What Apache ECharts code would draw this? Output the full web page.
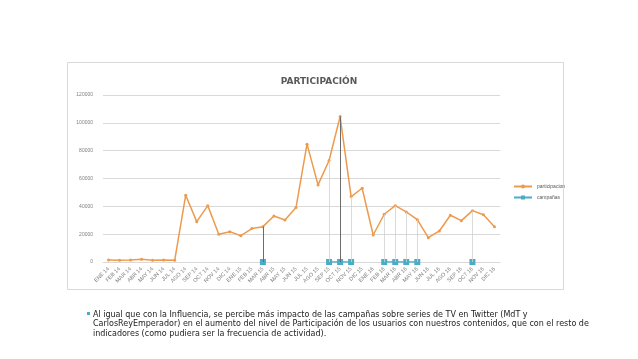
<!DOCTYPE html>
<html><head><meta charset="utf-8">
<script src="https://cdn.jsdelivr.net/npm/echarts@6/dist/echarts.min.js"></script>
<style>html,body{margin:0;padding:0;background:#fff}#c{width:638px;height:359px}</style>
</head><body><div id="c"></div>
<script>
const months = ["ENE 14","FEB 14","MAR 14","ABR 14","MAY 14","JUN 14","JUL 14","AGO 14","SEP 14","OCT 14","NOV 14","DIC 14",
"ENE 15","FEB 15","MAR 15","ABR 15","MAY 15","JUN 15","JUL 15","AGO 15","SEP 15","OCT 15","NOV 15","DIC 15",
"ENE 16","FEB 16","MAR 16","ABR 16","MAY 16","JUN 16","JUL 16","AGO 16","SEP 16","OCT 16","NOV 16","DIC 16"];
const participacion = [1400,1200,1500,1900,1200,1500,1200,48000,29000,40500,19900,21800,
18900,24000,25400,33100,30200,39100,84700,55400,72900,104500,47000,53000,
19400,34300,40500,36000,30400,17500,22300,33600,29700,36900,34000,25400];
const campanas = [null,null,null,null,null,null,null,null,null,null,null,null,
null,null,0,null,null,null,null,null,0,0,0,null,
null,0,0,0,0,null,null,null,null,0,null,null];
const darkDrops = [14,21];

const chart = echarts.init(document.getElementById('c'));
const drops = [];
campanas.forEach((v,i)=>{ if(v!==null){ drops.push([
  {coord:[i, participacion[i]], lineStyle:{color: darkDrops.includes(i)?'#6b6b6b':'#d0d0d0', width: darkDrops.includes(i)?1:0.8, type:'solid'}},
  {coord:[i, v]}
]);}});
chart.setOption({
  animation:false,
  backgroundColor:'#fff',
  title:{text:'PARTICIPACIÓN', left:'center', top:72, textStyle:{fontFamily:'DejaVu Sans', fontSize:9, fontWeight:'bold', color:'#595959'}},
  graphic:[
    {type:'rect', shape:{x:67.5,y:62.5,width:496,height:227}, style:{fill:'none', stroke:'#d9d9d9', lineWidth:1}, z:-1},
    {type:'rect', shape:{x:87,y:312,width:3,height:3}, style:{fill:'#4BACC6'}},
    {type:'text', left:93, top:310, style:{text:'Al igual que con la Influencia, se percibe más impacto de las campañas sobre series de TV en Twitter (MdT y\nCarlosReyEmperador) en el aumento del nivel de Participación de los usuarios con nuestros contenidos, que con el resto de\nindicadores (como pudiera ser la frecuencia de actividad).', fontFamily:'DejaVu Sans', fontSize:8, lineHeight:9.5, fill:'#222'}}
  ],
  legend:{orient:'vertical', left:508, top:179, itemWidth:18, itemHeight:5, itemGap:6,
    textStyle:{fontSize:5, color:'#595959', fontFamily:'Liberation Sans'},
    data:['participacion','campañas']},
  grid:{left:103, top:95, width:397, height:167, containLabel:false},
  xAxis:{type:'category', data:months, boundaryGap:true,
    axisLine:{lineStyle:{color:'#d9d9d9'}}, axisTick:{show:false},
    axisLabel:{rotate:45, interval:0, fontSize:5.5, color:'#7f7f7f', margin:6, fontFamily:'Liberation Sans'}},
  yAxis:{type:'value', min:0, max:120000, interval:20000,
    axisLine:{show:false}, axisTick:{show:false},
    splitLine:{lineStyle:{color:'#d9d9d9', width:1}},
    axisLabel:{fontSize:5, color:'#7f7f7f', margin:10, fontFamily:'Liberation Sans', formatter: v => String(v)}},
  series:[
    {name:'participacion', type:'line', data:participacion, symbol:'circle', symbolSize:3,
     itemStyle:{color:'#EE9A4D'}, lineStyle:{color:'#EE9A4D', width:1.5}, z:3,
     markLine:{silent:true, symbol:['none','none'], label:{show:false}, data:drops}},
    {name:'campañas', type:'line', data:campanas, symbol:'rect', symbolSize:6, connectNulls:false,
     itemStyle:{color:'#4BACC6'}, lineStyle:{color:'#4BACC6', width:1.5}, z:4}
  ]
});
</script></body></html>
